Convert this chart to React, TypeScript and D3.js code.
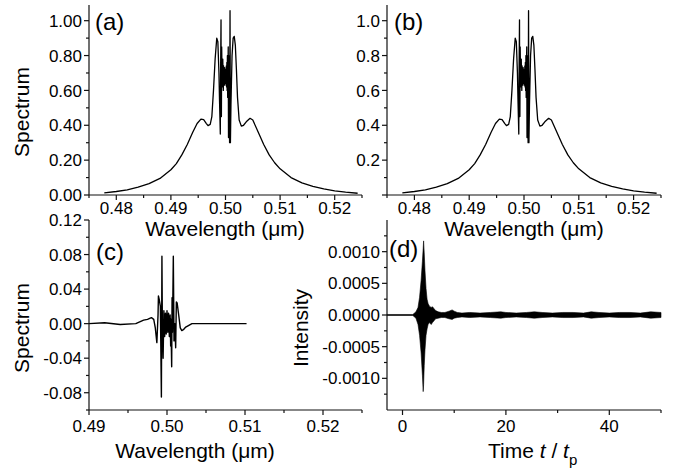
import React from 'react';
import * as d3 from 'd3';

// ---------- data ----------
const specLambda = [
  0.4778, 0.4800, 0.4820, 0.4840, 0.4860, 0.4880, 0.4900, 0.4910,
  0.4920, 0.4930, 0.4940, 0.4948, 0.4955, 0.4960, 0.4965, 0.4968,
  0.4972, 0.4975, 0.4978, 0.4981, 0.4984, 0.4986, 0.4988, 0.4989,
  0.49905, 0.4991, 0.49918, 0.4992, 0.49925, 0.4993, 0.4994, 0.4995,
  0.4996, 0.49965, 0.4997, 0.49975, 0.4998, 0.49985, 0.4999, 0.49995,
  0.5000, 0.50005, 0.5001, 0.50015, 0.5002, 0.50025, 0.5003, 0.50035,
  0.5004, 0.5005, 0.50055, 0.5006, 0.50075, 0.50083, 0.5009, 0.5010,
  0.5012, 0.5014, 0.5016, 0.5018, 0.5020, 0.5022, 0.5025, 0.5029,
  0.5033, 0.5038, 0.5045, 0.5050, 0.5060, 0.5070, 0.5080, 0.5090,
  0.5100, 0.5120, 0.5140, 0.5160, 0.5180, 0.5200, 0.5220, 0.5242,
];
const specValue = [
  0.012, 0.020, 0.030, 0.045, 0.065, 0.095, 0.145, 0.180,
  0.230, 0.290, 0.360, 0.410, 0.435, 0.432, 0.410, 0.398,
  0.405, 0.450, 0.600, 0.780, 0.900, 0.880, 0.700, 0.550,
  0.350, 0.700, 1.005, 0.600, 0.450, 0.850, 0.620, 0.780,
  0.600, 0.740, 0.640, 0.720, 0.630, 0.730, 0.640, 0.720,
  0.650, 0.720, 0.630, 0.740, 0.620, 0.760, 0.600, 0.800,
  0.560, 0.850, 0.330, 0.800, 0.300, 1.057, 0.300, 0.520,
  0.800, 0.900, 0.910, 0.860, 0.720, 0.560, 0.430, 0.395,
  0.400, 0.420, 0.440, 0.430, 0.360, 0.290, 0.230, 0.185,
  0.150, 0.100, 0.070, 0.050, 0.035, 0.024, 0.016, 0.010,
];

const diffLambda = [
  0.4900, 0.4920, 0.4940, 0.4960, 0.4965, 0.4970, 0.4975, 0.4980,
  0.4983, 0.4985, 0.4987, 0.49885, 0.4989, 0.4990, 0.49915, 0.4992,
  0.49928, 0.49935, 0.4994, 0.4995, 0.4996, 0.4997, 0.4998, 0.4999,
  0.5000, 0.5001, 0.5002, 0.5003, 0.5004, 0.50047, 0.5005, 0.5006,
  0.50065, 0.5007, 0.50081, 0.5009, 0.5010, 0.50111, 0.5012, 0.5013,
  0.5015, 0.5017, 0.5019, 0.5021, 0.5024, 0.5028, 0.5032, 0.5040,
  0.5060, 0.5080, 0.5102,
];
const diffValue = [
  0.000, 0.001, -0.001, 0.000, 0.002, 0.004, 0.005, 0.007,
  0.005, -0.005, -0.022, 0.010, 0.032, 0.028, 0.020, -0.020,
  -0.085, 0.078, 0.005, -0.040, 0.015, -0.015, 0.012, -0.012,
  0.015, -0.010, 0.012, -0.015, 0.010, -0.026, 0.005, -0.050,
  0.030, -0.010, 0.078, -0.020, 0.000, -0.028, 0.025, 0.024,
  0.010, -0.005, -0.008, -0.007, -0.004, -0.002, 0.000, 0.000,
  0.000, 0.000, 0.000,
];

const timeT = [
  -3, 2.0, 2.6, 3.0, 3.3, 3.6, 3.85, 4.0,
  4.08, 4.2, 4.35, 4.55, 4.75, 4.95, 5.2, 5.55,
  5.8, 6.1, 6.4, 6.9, 7.5, 8.2, 9.0, 9.6,
  10.0, 10.6, 11.5, 13, 15, 17, 19, 20,
  22, 24, 25.5, 27, 29, 31, 33, 35,
  36.5, 38, 40, 42, 44, 46, 48, 50,
];
const timeUpper = [
  0.000008, 0.000008, 0.00005, 0.00012, 0.00028, 0.00055, 0.00085, 0.00105,
  0.00117, 0.00098, 0.0007, 0.00042, 0.00025, 0.00018, 0.00014, 0.00012,
  0.00013, 0.0001, 0.00007, 0.00005, 0.00004, 0.00004, 0.00006, 0.00008,
  0.00006, 0.00004, 0.00003, 0.00004, 0.00003, 0.00004, 0.00005, 0.00004,
  0.00003, 0.00004, 0.00005, 0.00004, 0.00003, 0.00004, 0.00004, 0.00003,
  0.00005, 0.00004, 0.00003, 0.00004, 0.00004, 0.00003, 0.00005, 0.00004,
];
const timeLower = [
  -0.000008, -0.000008, -0.00005, -0.00015, -0.00032, -0.0006, -0.00095, -0.00121,
  -0.0011, -0.0008, -0.00055, -0.00032, -0.00022, -0.00015, -0.00012, -0.00015,
  -0.00012, -0.00009, -0.00006, -0.00005, -0.00004, -0.00004, -0.00006, -0.00007,
  -0.00005, -0.00004, -0.00003, -0.00004, -0.00003, -0.00004, -0.00005, -0.00004,
  -0.00003, -0.00004, -0.00005, -0.00004, -0.00003, -0.00004, -0.00004, -0.00003,
  -0.00005, -0.00004, -0.00003, -0.00004, -0.00004, -0.00003, -0.00005, -0.00004,
];

// ticks
const specXTicks = [0.48, 0.49, 0.50, 0.51, 0.52];
const specXMinor = [0.475, 0.485, 0.495, 0.505, 0.515, 0.525];
const aYTicks = [0, 0.2, 0.4, 0.6, 0.8, 1.0];
const bYTicks = [0, 0.2, 0.4, 0.6, 0.8, 1.0];
const specYMinor = [0.1, 0.3, 0.5, 0.7, 0.9];
const cXTicks = [0.49, 0.50, 0.51, 0.52];
const cXMinor = [0.495, 0.505, 0.515, 0.525];
const cYTicks = [-0.08, -0.04, 0, 0.04, 0.08, 0.12];
const cYMinor = [-0.1, -0.06, -0.02, 0.02, 0.06, 0.1];
const dXTicks = [0, 20, 40];
const dXMinor = [10, 30, 50];
const dYTicks = [-0.001, -0.0005, 0, 0.0005, 0.001];
const dYMinor = [-0.00125, -0.00075, -0.00025, 0.00025, 0.00075, 0.00125];

// ---------- layout ----------
const W = 695, H = 470;
const L1 = 89, R1 = 362, L2 = 387, R2 = 661;
const T1 = 5, B1 = 195, T2 = 220, B2 = 410;
const FONT = "'Liberation Sans', Arial, Helvetica, sans-serif";
const AX = '#111';

type Sc = d3.ScaleLinear<number, number>;

function Axes(props: {
  xs: Sc; ys: Sc; xTicks: number[]; xMinor: number[]; yTicks: number[]; yMinor: number[];
  xFmt: (v: number) => string; yFmt: (v: number) => string; xLabelDy: number;
}) {
  const { xs, ys, xTicks, xMinor, yTicks, yMinor, xFmt, yFmt, xLabelDy } = props;
  const [xa, xb] = xs.range();
  const [yb, ya] = ys.range();
  return (
    <g stroke={AX} fill="none" strokeWidth={1.2}>
      <line x1={xa} x2={xb} y1={yb} y2={yb} />
      <line x1={xa} x2={xa} y1={yb} y2={ya} />
      {xTicks.map((t, i) => (
        <line key={'xt' + i} x1={xs(t)} x2={xs(t)} y1={yb} y2={yb + 5} />
      ))}
      {xMinor.map((t, i) => (
        <line key={'xm' + i} x1={xs(t)} x2={xs(t)} y1={yb} y2={yb + 3} />
      ))}
      {yTicks.map((t, i) => (
        <line key={'yt' + i} x1={xa - 5} x2={xa} y1={ys(t)} y2={ys(t)} />
      ))}
      {yMinor.map((t, i) => (
        <line key={'ym' + i} x1={xa - 3} x2={xa} y1={ys(t)} y2={ys(t)} />
      ))}
      <g stroke="none" fill="#000" fontFamily={FONT} fontSize={17}>
        {xTicks.map((t, i) => (
          <text key={'xl' + i} x={xs(t)} y={yb + xLabelDy} textAnchor="middle">{xFmt(t)}</text>
        ))}
        {yTicks.map((t, i) => {
          const s = yFmt(t);
          return s ? (
            <text key={'yl' + i} x={xa - 7} y={ys(t)} dy="0.36em" textAnchor="end">{s}</text>
          ) : null;
        })}
      </g>
    </g>
  );
}

export default function App() {
  const xa = d3.scaleLinear().domain([0.475, 0.525]).range([L1, R1]);
  const ya = d3.scaleLinear().domain([0, 1.09]).range([B1, T1]);
  const xb = d3.scaleLinear().domain([0.475, 0.525]).range([L2, R2]);
  const yb = d3.scaleLinear().domain([0, 1.09]).range([B1, T1]);
  const xc = d3.scaleLinear().domain([0.49, 0.525]).range([L1, R1]);
  const yc = d3.scaleLinear().domain([-0.1, 0.12]).range([B2, T2]);
  const xd = d3.scaleLinear().domain([-3, 50]).range([L2, R2]);
  const yd = d3.scaleLinear().domain([-0.0015, 0.0015]).range([B2, T2]);

  const idxSpec = specLambda.map((_, i) => i);
  const lineA = d3.line<number>().x(i => xa(specLambda[i])).y(i => ya(specValue[i]))(idxSpec) || '';
  const lineB = d3.line<number>().x(i => xb(specLambda[i])).y(i => yb(specValue[i]))(idxSpec) || '';
  const idxDiff = diffLambda.map((_, i) => i);
  const lineC = d3.line<number>().x(i => xc(diffLambda[i])).y(i => yc(diffValue[i]))(idxDiff) || '';
  const idxT = timeT.map((_, i) => i);
  const areaD = d3.area<number>().x(i => xd(timeT[i])).y0(i => yd(timeLower[i])).y1(i => yd(timeUpper[i]))(idxT) || '';

  const f2 = (v: number) => v.toFixed(2);
  const f1 = (v: number) => (v === 0 ? '' : v.toFixed(1));
  const f4 = (v: number) => v.toFixed(4);
  const f0 = (v: number) => String(v);

  return (
    <svg width={W} height={H} viewBox={`0 0 ${W} ${H}`}
      style={{ position: 'absolute', left: 0, top: 0, background: '#fff' }}>
      <rect x={0} y={0} width={W} height={H} fill="#fff" />

      {/* panel a */}
      <path d={lineA} fill="none" stroke="#000" strokeWidth={1.3} strokeLinejoin="round" />
      <Axes xs={xa} ys={ya} xTicks={specXTicks} xMinor={specXMinor} yTicks={aYTicks} yMinor={specYMinor}
        xFmt={f2} yFmt={f2} xLabelDy={18.5} />
      {/* panel b */}
      <path d={lineB} fill="none" stroke="#000" strokeWidth={1.3} strokeLinejoin="round" />
      <Axes xs={xb} ys={yb} xTicks={specXTicks} xMinor={specXMinor} yTicks={bYTicks} yMinor={specYMinor}
        xFmt={f2} yFmt={f1} xLabelDy={18.5} />
      {/* panel c */}
      <path d={lineC} fill="none" stroke="#000" strokeWidth={1.4} strokeLinejoin="round" />
      <Axes xs={xc} ys={yc} xTicks={cXTicks} xMinor={cXMinor} yTicks={cYTicks} yMinor={cYMinor}
        xFmt={f2} yFmt={f2} xLabelDy={22} />
      {/* panel d */}
      <path d={areaD} fill="#000" stroke="#000" strokeWidth={0.6} />
      <Axes xs={xd} ys={yd} xTicks={dXTicks} xMinor={dXMinor} yTicks={dYTicks} yMinor={dYMinor}
        xFmt={f0} yFmt={f4} xLabelDy={22} />

      <g fontFamily={FONT} fill="#000">
        <text x={95} y={30} fontSize={24}>(a)</text>
        <text x={394} y={30} fontSize={24}>(b)</text>
        <text x={96} y={260} fontSize={24}>(c)</text>
        <text x={389} y={257} fontSize={24}>(d)</text>

        <text x={225} y={236} fontSize={21} textAnchor="middle">Wavelength (μm)</text>
        <text x={524} y={236} fontSize={21} textAnchor="middle">Wavelength (μm)</text>
        <text x={195} y={458} fontSize={21} textAnchor="middle">Wavelength (μm)</text>
        <text x={488} y={458} fontSize={21}>
          Time <tspan fontStyle="italic">t</tspan> / <tspan fontStyle="italic">t</tspan>
          <tspan fontSize={15} dy={7}>p</tspan>
        </text>
        <text transform="translate(29,112) rotate(-90)" fontSize={21} textAnchor="middle">Spectrum</text>
        <text transform="translate(29,328) rotate(-90)" fontSize={21} textAnchor="middle">Spectrum</text>
        <text transform="translate(308,328) rotate(-90)" fontSize={21} textAnchor="middle">Intensity</text>
      </g>
    </svg>
  );
}
